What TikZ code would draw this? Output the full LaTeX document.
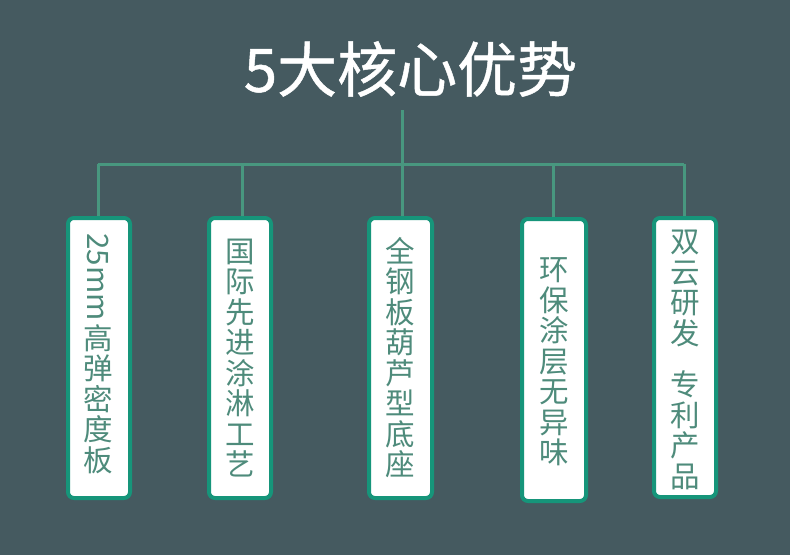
\documentclass[tikz,border=0pt]{standalone}
\usepackage{fontspec}
\setmainfont{Noto Sans CJK SC}
\newfontfamily\titlefont{Noto Sans CJK SC}[FakeBold=0.8]
\definecolor{bgc}{HTML}{455A60}
\definecolor{linec}{HTML}{48977F}
\definecolor{borderc}{HTML}{16957A}
\definecolor{txtc}{HTML}{4E8B7B}
\begin{document}
\begin{tikzpicture}[x=1pt,y=-1pt,
  conn/.style={draw=linec,line width=3pt},
  card/.style={draw=borderc,line width=4pt,fill=white,rounded corners=6pt},
  cardtext/.style={text=txtc,font=\fontsize{29.5}{30.5}\selectfont,align=center,inner sep=0pt},
  titletext/.style={text=white,font=\titlefont\fontsize{60}{64}\selectfont,inner sep=0pt}]
\fill[bgc] (0,0) rectangle (790,555);
\useasboundingbox (0,0) rectangle (790,555);
% title
\node[titletext] (title) at (410.5,69) {5大核心优势};
\coordinate (tbot) at (402,110);
\coordinate (hub) at (402,164);
% cards
\draw[card] (68,218) rectangle (130,498);
\draw[card] (209,218) rectangle (271,498);
\draw[card] (369,218) rectangle (432,498);
\draw[card] (522,219) rectangle (586,501);
\draw[card] (654,218) rectangle (716,497);
\coordinate (c1) at (98,216);
\coordinate (c2) at (242,216);
\coordinate (c3) at (402,216);
\coordinate (c4) at (553,217);
\coordinate (c5) at (684,216);
\coordinate (h1) at (98,164);
\coordinate (h2) at (242,164);
\coordinate (h4) at (553,164);
\coordinate (h5) at (684,164);
% connectors
\draw[conn] (tbot) -- (c3);
\draw[conn] (h1) -- (h5);
\draw[conn] (h1) -- (c1);
\draw[conn] (h2) -- (c2);
\draw[conn] (h4) -- (c4);
\draw[conn] (h5) -- (c5);
% texts
\node[cardtext,rotate=-90,font=\fontsize{29.5}{31}\selectfont] (t1a) at (98,277) {25mm};
\node[cardtext] (t1b) at (98,399) {高\\弹\\密\\度\\板};
\node[cardtext] (t2) at (240,358) {国\\际\\先\\进\\涂\\淋\\工\\艺};
\node[cardtext] (t3) at (400,357.5) {全\\钢\\板\\葫\\芦\\型\\底\\座};
\node[cardtext] (t4) at (554,362) {环\\保\\涂\\层\\无\\异\\味};
\node[cardtext] (t5) at (685,360) {双\\云\\研\\发\\[21pt]专\\利\\产\\品};
\end{tikzpicture}
\end{document}
